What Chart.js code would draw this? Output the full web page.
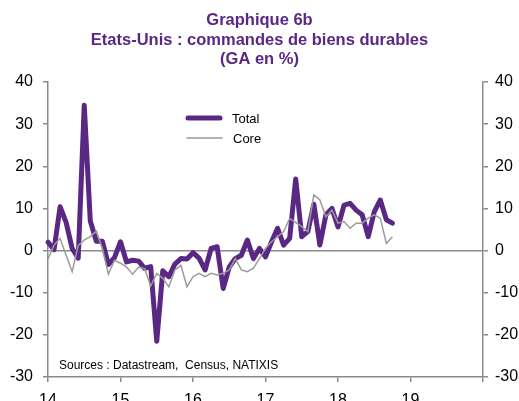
<!DOCTYPE html>
<html>
<head>
<meta charset="utf-8">
<script src="https://cdn.jsdelivr.net/npm/chart.js@4.4.1/dist/chart.umd.min.js"></script>
<style>
  html, body { margin: 0; padding: 0; background: #fff; }
</style>
</head>
<body>
<canvas id="durables-chart" width="519" height="401"></canvas>
<script>
// monthly data, Jan 2014 -> Oct 2018 (year index 14 = 2014)
const firstYear = 14;

const total = [
  2.0, 0.2, 10.4, 6.7, 0.5, -1.8, 34.5, 7.0, 2.2, 2.2, -3.3, -1.7,
  2.1, -2.7, -2.3, -2.5, -4.2, -3.8, -21.5, -4.8, -6.2, -3.2, -1.9, -2.0,
  -0.5, -1.8, -4.6, 0.5, 0.9, -9.0, -3.9, -1.9, -1.1, 2.5, -1.9, 0.5,
  -1.5, 2.1, 5.3, 1.3, 2.9, 17.0, 3.3, 4.5, 11.0, 1.3, 8.5, 10.0,
  5.6, 10.8, 11.2, 9.6, 8.5, 3.3, 9.2, 12.0, 7.3, 6.5
];

const core = [
  -2.0, 1.3, 2.9, -1.1, -5.0, 1.2, 2.5, 3.3, 4.6, 0.5, -5.6, -2.3,
  -3.0, -3.9, -5.6, -3.9, -4.3, -8.4, -5.4, -6.6, -8.6, -4.6, -3.5, -8.6,
  -6.2, -5.4, -6.2, -5.4, -5.8, -5.4, -4.6, -1.9, -4.6, -5.0, -4.2, -1.9,
  0.5, 2.1, 3.3, 4.5, 7.6, 6.7, 5.7, 4.5, 13.2, 12.0, 8.0, 9.6,
  6.5, 6.9, 5.3, 6.5, 6.5, 7.7, 8.5, 7.7, 1.7, 3.3
];

const yearTicks = ['14', '15', '16', '17', '18', '19'];
const titleLines = ['Graphique 6b', 'Etats-Unis : commandes de biens durables', '(GA en %)'];
const seriesNames = ['Total', 'Core'];
const sourceNote = 'Sources : Datastream,  Census, NATIXIS';

const purple = '#5a2784';
const grey = '#9b9b9b';
const axisGrey = '#8a8a8a';
const fontFamily = '"Liberation Sans", Arial, sans-serif';

const toPoints = arr => arr.map((v, i) => ({ x: firstYear + i / 12, y: v }));

// title, legend and source note drawn on the canvas
const textPlugin = {
  id: 'textPlugin',
  afterDraw(chart) {
    const ctx = chart.ctx;
    ctx.save();
    ctx.fillStyle = purple;
    ctx.font = 'bold 16.5px ' + fontFamily;
    ctx.textAlign = 'center';
    ctx.textBaseline = 'alphabetic';
    titleLines.forEach((t, i) => ctx.fillText(t, chart.width / 2, 25 + i * 19.5));

    // legend
    ctx.lineCap = 'round';
    ctx.strokeStyle = purple;
    ctx.lineWidth = 5;
    ctx.beginPath(); ctx.moveTo(188, 118); ctx.lineTo(220, 118); ctx.stroke();
    ctx.strokeStyle = grey;
    ctx.lineWidth = 1.5;
    ctx.beginPath(); ctx.moveTo(187, 138); ctx.lineTo(222, 138); ctx.stroke();
    ctx.fillStyle = '#000';
    ctx.font = '13px ' + fontFamily;
    ctx.textAlign = 'left';
    ctx.fillText(seriesNames[0], 232, 123);
    ctx.fillText(seriesNames[1], 233, 143);

    ctx.font = '12px ' + fontFamily;
    ctx.fillText(sourceNote, 59, 369);
    ctx.restore();
  }
};

const tickFont = { family: fontFamily, size: 16 };

new Chart(document.getElementById('durables-chart'), {
  type: 'line',
  data: {
    datasets: [
      {
        label: seriesNames[0],
        data: toPoints(total),
        borderColor: purple,
        borderWidth: 5,
        borderJoinStyle: 'round',
        borderCapStyle: 'round',
        pointRadius: 0,
        tension: 0,
        clip: 6,
        order: 1
      },
      {
        label: seriesNames[1],
        data: toPoints(core),
        borderColor: grey,
        borderWidth: 1.5,
        pointRadius: 0,
        tension: 0,
        clip: 6,
        order: 0
      }
    ]
  },
  plugins: [textPlugin],
  options: {
    responsive: false,
    animation: false,
    layout: { padding: { top: 82, left: 0, right: 0, bottom: 0 } },
    plugins: {
      legend: { display: false },
      tooltip: { enabled: false },
      title: { display: false }
    },
    scales: {
      x: {
        type: 'linear',
        position: 'bottom',
        min: 14,
        max: 20,
        ticks: {
          stepSize: 1,
          color: '#000',
          font: tickFont,
          padding: 9,
          maxRotation: 0,
          callback: v => yearTicks[v - firstYear] || ''
        },
        grid: { drawOnChartArea: false, tickLength: 5, tickColor: axisGrey, lineWidth: 1.5 },
        border: { color: axisGrey, width: 1.5 },
        afterFit: s => { s.height = 24; }
      },
      y: {
        position: 'left',
        min: -30,
        max: 40,
        ticks: { stepSize: 10, color: '#000', font: tickFont, padding: 10 },
        grid: {
          color: c => (c.tick && c.tick.value === 0 ? axisGrey : 'rgba(0,0,0,0)'),
          lineWidth: 1.5,
          tickLength: 5,
          tickColor: axisGrey
        },
        border: { color: axisGrey, width: 1.5 },
        afterFit: s => { s.width = 48; }
      },
      y2: {
        position: 'right',
        min: -30,
        max: 40,
        ticks: { stepSize: 10, color: '#000', font: tickFont, padding: 7 },
        grid: { drawOnChartArea: false, tickLength: 5, tickColor: axisGrey, lineWidth: 1.5 },
        border: { color: axisGrey, width: 1.5 },
        afterFit: s => { s.width = 36; }
      }
    }
  }
});
</script>
</body>
</html>
